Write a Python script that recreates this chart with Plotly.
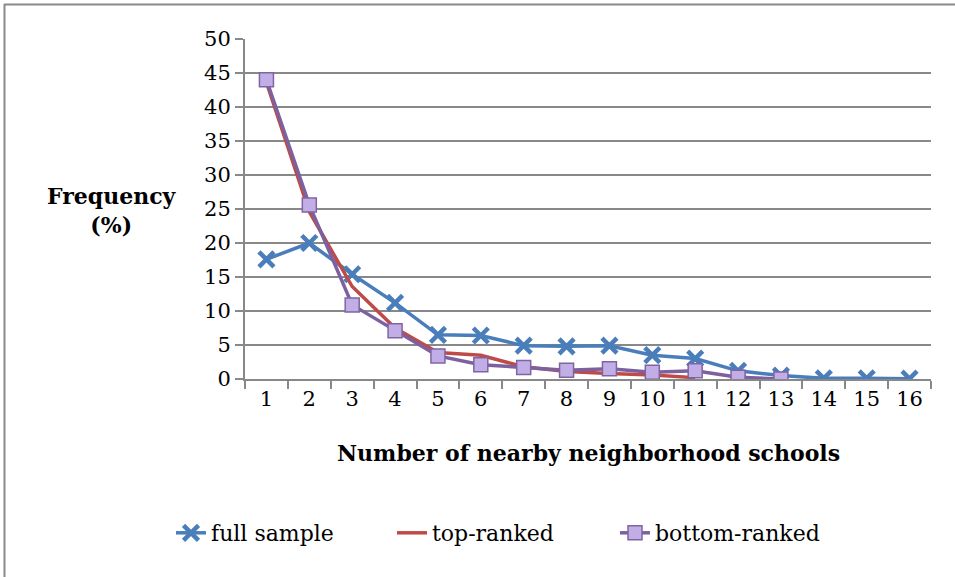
import plotly.graph_objects as go

categories = [str(i) for i in range(1, 17)]
full_sample = [17.6, 20.0, 15.4, 11.2, 6.5, 6.4, 4.9, 4.8, 4.9, 3.5, 3.0, 1.2, 0.5, 0.1, 0.1, 0.05]
top_ranked = [43.6, 24.6, 13.6, 7.5, 3.9, 3.5, 1.8, 1.1, 0.8, 0.6, 0.2]
bottom_ranked = [44.0, 25.6, 10.9, 7.1, 3.4, 2.1, 1.7, 1.3, 1.5, 1.0, 1.2, 0.25, 0.0]
y_ticks = [0, 5, 10, 15, 20, 25, 30, 35, 40, 45, 50]

FONT = "DejaVu Serif"

fig = go.Figure()
fig.add_trace(go.Scatter(
    x=categories, y=full_sample, name="full sample", mode="lines+markers", legend="legend",
    line=dict(color="#4a7ebb", width=3.5),
    marker=dict(symbol="x-thin", size=15, line=dict(color="#4a7ebb", width=4.5), color="#4a7ebb"),
))
fig.add_trace(go.Scatter(
    x=categories[:len(top_ranked)], y=top_ranked, name="top-ranked", mode="lines", legend="legend2",
    line=dict(color="#be4b48", width=3.5),
))
fig.add_trace(go.Scatter(
    x=categories[:len(bottom_ranked)], y=bottom_ranked, name="bottom-ranked", mode="lines+markers",
    legend="legend3",
    line=dict(color="#7d60a0", width=3.5),
    marker=dict(symbol="square", size=14, color="#c2aee6", line=dict(color="#8064a2", width=1.5)),
))

W, H = 955, 577
L, R, T, B = 245, 24, 39, 198
pw, ph = W - L - R, H - T - B

def px(x):
    return (x - L) / pw

def py(y):
    return (H - B - y) / ph

def leg(xpix):
    return dict(orientation="h", x=px(xpix), xanchor="left", y=py(533), yanchor="middle",
                font=dict(size=22), itemsizing="trace", bgcolor="rgba(0,0,0,0)")

fig.update_layout(
    width=W, height=H,
    margin=dict(l=L, r=R, t=T, b=B),
    paper_bgcolor="white", plot_bgcolor="white",
    font=dict(family=FONT, size=21, color="black"),
    showlegend=True,
    legend=leg(171),
    legend2=leg(392),
    legend3=leg(615),
    xaxis=dict(type="category", showgrid=False, showline=True, linecolor="#888888", linewidth=2,
               ticks="outside", ticklen=8, tickcolor="#888888", tickwidth=2,
               tickson="boundaries", tickfont=dict(size=21), range=[-0.5, 15.5]),
    yaxis=dict(range=[0, 50], tickvals=y_ticks, showgrid=True, gridcolor="#888888", gridwidth=2,
               showline=True, linecolor="#888888", linewidth=2, ticks="outside", ticklen=8,
               tickcolor="#888888", tickwidth=2, tickfont=dict(size=21), zeroline=False),
    shapes=[
        dict(type="line", xref="paper", yref="paper", x0=px(4), x1=px(955), y0=py(4.5), y1=py(4.5),
             line=dict(color="#8a8a8a", width=2), layer="below"),
        dict(type="line", xref="paper", yref="paper", x0=px(4.5), x1=px(4.5), y0=py(4), y1=py(577),
             line=dict(color="#8a8a8a", width=2), layer="below"),
    ],
    annotations=[
        dict(text="<b>Number of nearby neighborhood schools</b>", xref="paper", yref="paper",
             x=px(588), y=py(453), xanchor="center", yanchor="middle", showarrow=False,
             font=dict(size=22)),
        dict(text="<b>Frequency<br>(%)</b>", xref="paper", yref="paper",
             x=px(112), y=py(210), xanchor="center", yanchor="middle", showarrow=False,
             font=dict(size=22), align="center"),
    ],
)

fig.write_html("out.html", config={"displayModeBar": False},
               post_script="document.body.style.margin='0';document.body.style.overflow='hidden';")
